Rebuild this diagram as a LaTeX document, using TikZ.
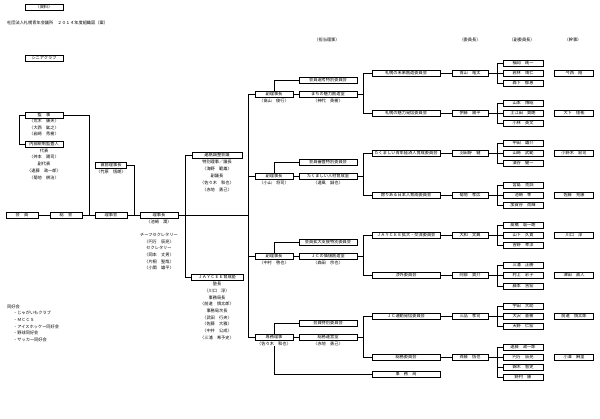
\documentclass[tikz,border=0pt]{standalone}
\usepackage{fontspec}
\setmainfont{Noto Sans CJK JP}
\newcommand\fs{\fontsize{4.2}{5}\selectfont}
\newcommand\cmte[6]{%
 \node[bx,minimum width=68pt] (#1) at (406,#2) {#3};
 \node[bx,minimum width=36pt] (#1c) at (470,#2) {#4};
 \draw[ln] (#1) -- (#1c);
 \coordinate (#1j) at (497,#2);
 \draw[ln] (#1c) -- (#1j);
 \foreach \yy/\nm [count=\i] in {#5} {\node[bx,minimum width=40pt] (#1v\i) at (523,\yy) {\nm}; \draw[ln] (#1j) |- (#1v\i);}
 \node[bx,minimum width=39pt] (#1s) at (574,#2) {#6};
}
\begin{document}
\begin{tikzpicture}[x=1pt,y=-1pt,
 every node/.style={font=\fs},
 bx/.style={draw,line width=0.5pt,inner sep=0pt,minimum height=6pt,text height=3.3pt,text depth=0.6pt},
 t/.style={inner sep=0pt},
 ln/.style={line width=0.5pt}]
\useasboundingbox[fill=white] (0,0) rectangle (600,418);
% header
\node[bx,minimum width=38pt] (shiryo) at (44,7) {〈資料〉};
\node[t,anchor=west] (title) at (7,23) {社団法人札幌青年会議所　２０１４年度組織図（案）};
\node[bx,minimum width=38pt] (senior) at (44,58) {シニアクラブ};
\node[t] (h1) at (327,40) {（担当理事）};
\node[t] (h2) at (470,40) {（委員長）};
\node[t] (h3) at (522,40) {（副委員長）};
\node[t] (h4) at (573,40) {（幹事）};
% left
\node[bx,minimum width=38pt] (kanji) at (44,115) {監　事};
\node[t] (kj1) at (44,121) {〈荒木　康夫〉};
\node[t] (kj2) at (44,128) {〈大西　鉱之〉};
\node[t] (kj3) at (44,134) {〈岩崎　秀樹〉};
\node[bx,minimum width=38pt] (naibu) at (44,144) {内部統制監査人};
\node[t] (nb1) at (44,151) {代表};
\node[t] (nb2) at (44,157) {〈舛本　陽司〉};
\node[t] (nb3) at (44,164) {副代表};
\node[t] (nb4) at (44,171) {〈遠藤　政一郎〉};
\node[t] (nb5) at (44,178) {〈菊地　耕治〉};
\draw[ln] (kanji.west) -- ++(-6,0) |- (naibu.west);
\node[bx,minimum width=31pt] (choku) at (111,165) {直前理事長};
\node[t] (ck1) at (111,172) {〈竹原　悟朗〉};
% bottom row
\node[bx,minimum width=32pt] (kaiin) at (22,215) {会　員};
\node[bx,minimum width=32pt] (sokai) at (66,215) {総　会};
\node[bx,minimum width=32pt] (rijikai) at (111,215) {理事会};
\node[bx,minimum width=38pt] (rijicho) at (159,215) {理事長};
\draw[ln] (kaiin) -- (sokai);
\draw[ln] (sokai) -- (rijikai);
\draw[ln] (rijikai) -- (rijicho);
\coordinate (k0) at (89,215);
\coordinate (k1) at (134,215);
\draw[ln] (kanji.east) -| (k0);
\draw[ln] (choku.east) -| (k1);
\node[t] (rc1) at (159,222) {〈池崎　潤〉};
\node[t] (rc2) at (159,235) {チーフセクレタリー};
\node[t] (rc3) at (159,242) {〈円万　辰亮〉};
\node[t] (rc4) at (159,248) {セクレタリー};
\node[t] (rc5) at (159,255) {〈岡本　丈男〉};
\node[t] (rc6) at (159,262) {〈片桐　聖哉〉};
\node[t] (rc7) at (159,268) {〈小関　雄平〉};
% doukoukai
\node[t,anchor=west] (dk) at (7,307) {同好会};
\node[t,anchor=west] (dk1) at (13,313) {・じゃがいもクラブ};
\node[t,anchor=west] (dk2) at (13,320) {・ＭＣＣＳ};
\node[t,anchor=west] (dk3) at (13,327) {・アイスホッケー同好会};
\node[t,anchor=west] (dk4) at (13,333) {・野球同好会};
\node[t,anchor=west] (dk5) at (13,340) {・サッカー同好会};
% renraku / jaycee
\coordinate (ka) at (185,215);
\coordinate (trk) at (248,215);
\draw[ln] (rijicho) -- (trk);
\node[bx,minimum width=50pt] (renraku) at (217,155) {連絡調整会議};
\node[t] (rr1) at (217,162) {特別理事／議長};
\node[t] (rr2) at (217,169) {〈海野　範雄〉};
\node[t] (rr3) at (217,176) {副議長};
\node[t] (rr4) at (217,183) {〈佐々木　和也〉};
\node[t] (rr5) at (217,190) {〈赤地　勇己〉};
\node[bx,minimum width=52pt] (juku) at (217,277) {ＪＡＹＣＥＥ育成塾};
\node[t] (jk1) at (217,284) {塾長};
\node[t] (jk2) at (217,291) {〈川口　淳〉};
\node[t] (jk3) at (217,298) {事務局長};
\node[t] (jk4) at (217,304) {〈前道　慎太郎〉};
\node[t] (jk5) at (217,311) {事務局次長};
\node[t] (jk6) at (217,318) {〈武田　行央〉};
\node[t] (jk7) at (217,324) {〈佐藤　大雅〉};
\node[t] (jk8) at (217,331) {〈中井　公成〉};
\node[t] (jk9) at (217,338) {〈三浦　希予史〉};
\draw[ln] (ka) |- (renraku.west);
\draw[ln] (ka) |- (juku.west);
% vice presidents
\node[bx,minimum width=38pt] (v1) at (274,94) {副理事長};
\node[t] (v1n) at (274,101) {〈髙山　俊行〉};
\node[bx,minimum width=38pt] (v2) at (274,176) {副理事長};
\node[t] (v2n) at (274,183) {〈小山　将司〉};
\node[bx,minimum width=38pt] (v3) at (274,256) {副理事長};
\node[t] (v3n) at (274,263) {〈中村　啓也〉};
\node[bx,minimum width=38pt] (v4) at (274,337) {専務理事};
\node[t] (v4n) at (274,344) {〈佐々木　和也〉};
\foreach \v in {v1,v2,v3,v4} \draw[ln] (trk) |- (\v.west);
% rooms
\node[bx,minimum width=58pt] (s1a) at (328,80) {会員選考特別委員会};
\node[bx,minimum width=58pt] (s1b) at (328,94) {まちの魅力創造室};
\node[t] (s1n) at (328,101) {〈神代　英樹〉};
\node[bx,minimum width=58pt] (s2a) at (328,162) {会員審査特別委員会};
\node[bx,minimum width=58pt] (s2b) at (328,176) {たくましい人材育成室};
\node[t] (s2n) at (328,183) {〈遠風　誠也〉};
\node[bx,minimum width=58pt] (s3a) at (328,242) {会員拡大支援特別委員会};
\node[bx,minimum width=58pt] (s3b) at (328,256) {ＪＣの価値創造室};
\node[t] (s3n) at (328,263) {〈森田　宗也〉};
\node[bx,minimum width=58pt] (s4a) at (328,323) {会員特別委員会};
\node[bx,minimum width=58pt] (s4b) at (328,337) {総務運営室};
\node[t] (s4n) at (328,344) {〈赤地　勇己〉};
\foreach \i in {1,2,3,4} {
 \draw[ln] (v\i.north) |- (s\i a.west);
 \draw[ln] (v\i) -- (s\i b);
}
\node[bx,minimum width=68pt] (jim) at (406,374) {事　務　局};
\draw[ln] (v4n.south) |- (jim.west);
% committees
\cmte{c1}{73}{札幌の未来創造委員会}{青山　竜太}{63/福岡　純一,73/若林　靖仁,83/森下　郁恵}{今西　翔}
\cmte{c2}{113}{札幌の魅力発信委員会}{伊藤　陽平}{103/山本　博昭,113/土江田　貴朗,123/小林　英文}{大下　佳祐}
\cmte{c3}{153}{たくましい青年経済人育成委員会}{羽田野　健}{143/中田　雄介,153/山崎　武範,163/濱谷　健一}{小野木　宏司}
\cmte{c4}{195}{誇りある日本人育成委員会}{菊地　孝広}{185/宮島　克訓,195/池崎　幸,205/加賀谷　尚輝}{佐藤　充康}
\cmte{c5}{235}{ＪＡＹＣＥＥ拡大・交流委員会}{大和　文典}{225/髙橋　聡一朗,235/山下　久貴,245/吉野　幸洋}{川口　淳}
\cmte{c6}{275}{渉外委員会}{阿部　貴介}{265/三浦　正勝,275/村上　彩子,286/藤本　吉宏}{津田　直人}
\cmte{c7}{316}{ＪＣ運動発信委員会}{三品　孝司}{306/宇田　大助,316/大沢　亜樹,326/天野　仁宏}{前道　慎太郎}
\cmte{c8}{357}{総務委員会}{斉藤　悟也}{347/遠藤　政一郎,357/円万　辰亮,367/錦木　智史,377/野村　康}{小澤　麻里}
\coordinate (g1) at (363,94);
\coordinate (g2) at (363,176);
\coordinate (g3) at (363,256);
\coordinate (g4) at (363,337);
\draw[ln] (s1b) -- (g1); \draw[ln] (g1) |- (c1.west); \draw[ln] (g1) |- (c2.west);
\draw[ln] (s2b) -- (g2); \draw[ln] (g2) |- (c3.west); \draw[ln] (g2) |- (c4.west);
\draw[ln] (s3b) -- (g3); \draw[ln] (g3) |- (c5.west); \draw[ln] (g3) |- (c6.west);
\draw[ln] (s4b) -- (g4); \draw[ln] (g4) |- (c7.west); \draw[ln] (g4) |- (c8.west);
\end{tikzpicture}
\end{document}
